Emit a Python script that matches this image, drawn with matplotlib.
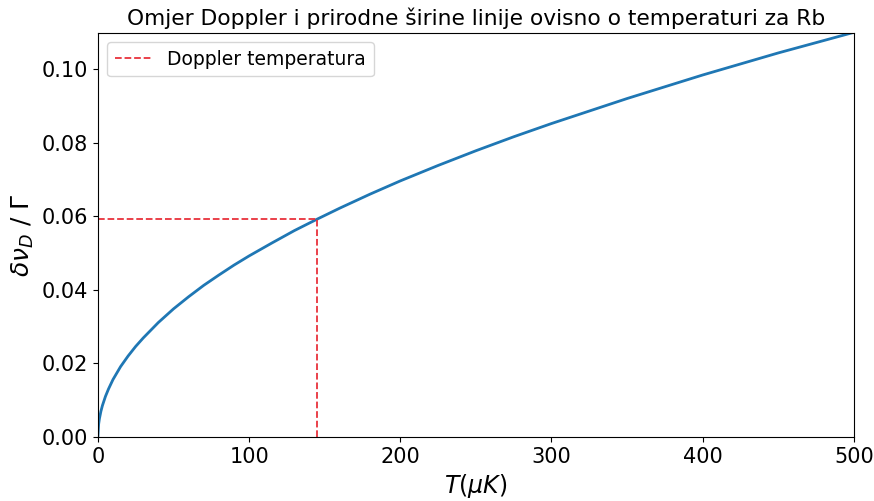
import matplotlib
matplotlib.use("Agg")
import matplotlib.pyplot as plt

# Values
T_uK = [0, 0.5, 1, 2, 3, 5, 7, 10, 15, 20, 25, 30, 40, 50, 60, 70, 80, 90, 100,
        115, 130, 145, 160, 180, 200, 225, 250, 275, 300, 350, 400, 450, 500]
ratio = [0.0, 0.00348, 0.00492, 0.00696, 0.00852, 0.0110, 0.0130, 0.0156, 0.0191,
         0.0220, 0.0246, 0.0269, 0.0311, 0.0348, 0.0381, 0.0412, 0.0440, 0.0467,
         0.0492, 0.0527, 0.0561, 0.0592, 0.0622, 0.0660, 0.0696, 0.0738, 0.0778,
         0.0816, 0.0852, 0.0920, 0.0984, 0.1044, 0.1100]

doppler_T = 145
doppler_ratio = 0.0592

xticks = [0, 100, 200, 300, 400, 500]
yticks = [0.00, 0.02, 0.04, 0.06, 0.08, 0.10]

fig = plt.figure(figsize=(8.74, 5.01), dpi=100)
ax = fig.add_axes([0.112, 0.128, 0.865, 0.806])

ax.plot(T_uK, ratio, color='#1f77b4', lw=2)
red = '#e8323c'
ax.plot([0, doppler_T], [doppler_ratio, doppler_ratio], ls='--', color=red, lw=1.3,
        label='Doppler temperatura')
ax.plot([doppler_T, doppler_T], [0, doppler_ratio], ls='--', color=red, lw=1.3)

ax.set_xlim(0, 500)
ax.set_ylim(0, 0.1098)
ax.set_xticks(xticks)
ax.set_yticks(yticks)
ax.set_yticklabels([f"{v:.2f}" for v in yticks])
ax.tick_params(labelsize=15)
ax.set_xlabel(r'$T(\mu K)$', fontsize=17)
ax.set_ylabel(r'$\delta \nu_D$ / $\Gamma$', fontsize=18)
ax.set_title('Omjer Doppler i prirodne širine linije ovisno o temperaturi za Rb', fontsize=15.7)
ax.legend(loc='upper left', fontsize=13.5)

fig.savefig('out.png', dpi=100)
